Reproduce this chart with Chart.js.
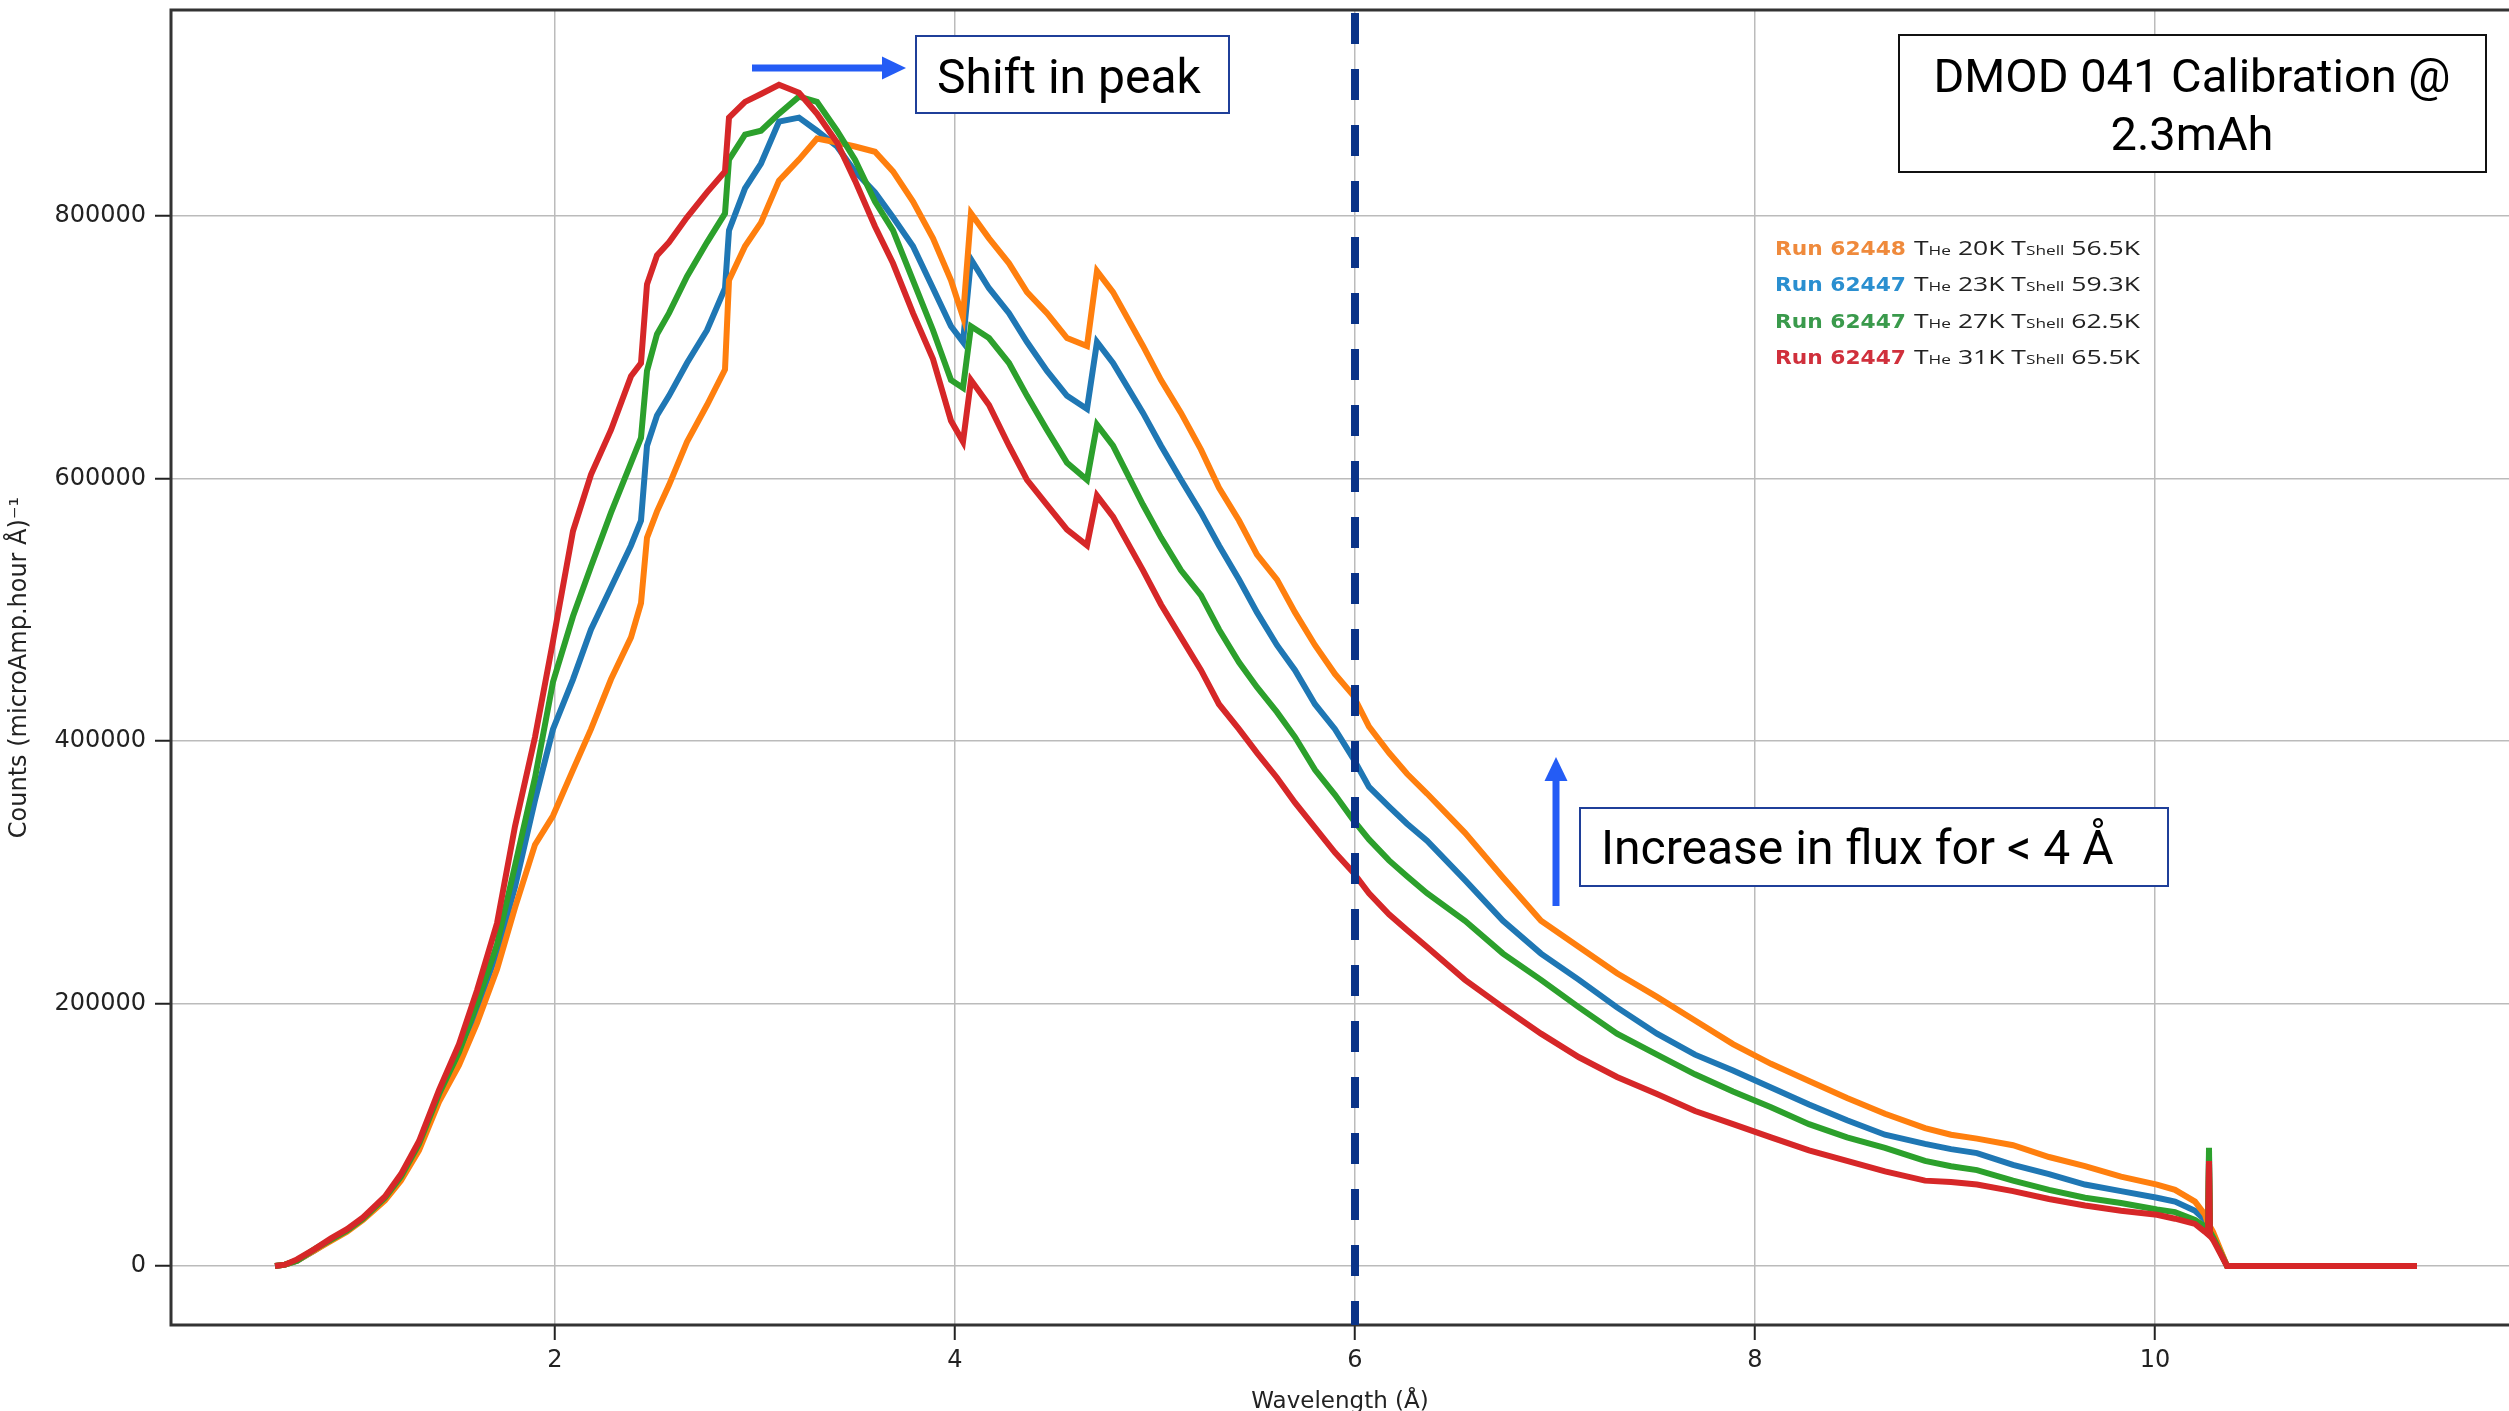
<!DOCTYPE html>
<html>
<head>
<meta charset="utf-8">
<script src="https://cdn.jsdelivr.net/npm/chart.js@4.4.1/dist/chart.umd.min.js"></script>
<style>
  html, body { margin: 0; padding: 0; background: #fff; }
  canvas { display: block; }
</style>
</head>
<body>
<canvas id="spectrumChart" width="2509" height="1411"></canvas>
<script>
// wavelength in Angstrom, shared by all four runs
const wavelength = [
    0.60, 0.65, 0.71, 0.80, 0.88, 0.96, 1.04, 1.15, 1.23, 1.32,
    1.42, 1.52, 1.61, 1.71, 1.80, 1.90, 1.99, 2.09, 2.18, 2.28,
    2.38, 2.43, 2.46, 2.51, 2.57, 2.66, 2.76, 2.85, 2.87, 2.95,
    3.03, 3.12, 3.22, 3.31, 3.41, 3.50, 3.60, 3.69, 3.79, 3.89,
    3.98, 4.04, 4.08, 4.17, 4.27, 4.36, 4.46, 4.56, 4.66, 4.71,
    4.79, 4.94, 5.03, 5.13, 5.23, 5.32, 5.42, 5.51, 5.61, 5.70,
    5.80, 5.90, 5.99, 6.07, 6.17, 6.26, 6.36, 6.55, 6.74, 6.93,
    7.12, 7.31, 7.51, 7.70, 7.89, 8.08, 8.27, 8.46, 8.65, 8.85,
    8.98, 9.11, 9.29, 9.47, 9.65, 9.83, 10.01, 10.10, 10.20, 10.25,
    10.265, 10.27, 10.275, 10.29, 10.36, 11.31
];

// counts in thousands
const run62448_T20 = [
    0, 1, 4, 12, 19, 26, 35, 50, 65, 88,
    125, 153, 185, 226, 273, 321, 343, 378, 409, 447,
    479, 505, 555, 575, 595, 628, 656, 683, 751, 777,
    795, 827, 843, 859, 856, 853, 849, 834, 811, 783,
    751, 723, 802, 783, 764, 742, 726, 707, 701, 758,
    742, 701, 675, 650, 622, 593, 568, 542, 523, 498,
    473, 451, 435, 411, 391, 375, 360, 330, 296, 263,
    243, 223, 205, 187, 169, 154, 141, 128, 116, 105,
    100, 97, 92, 83, 76, 68, 62, 58, 49, 39,
    32, 78, 30, 26, 0, 0
];
const run62447_T23 = [
    0, 1, 4, 12, 20, 27, 36, 52, 68, 92,
    130, 160, 196, 239, 289, 355, 409, 447, 485, 517,
    549, 568, 625, 648, 663, 688, 713, 745, 789, 821,
    840, 872, 875, 865, 853, 834, 818, 799, 777, 745,
    716, 704, 767, 745, 726, 704, 682, 663, 653, 704,
    688, 650, 625, 599, 574, 549, 523, 498, 473, 454,
    428, 409, 387, 365, 350, 337, 324, 294, 263, 238,
    218, 197, 177, 161, 149, 136, 123, 111, 100, 93,
    89, 86, 77, 70, 62, 57, 52, 49, 42, 35,
    30, 84, 28, 24, 0, 0
];
const run62447_T27 = [
    0, 1, 4, 13, 20, 27, 36, 52, 68, 93,
    131, 163, 200, 245, 305, 372, 445, 495, 533, 574,
    612, 631, 682, 710, 726, 754, 780, 802, 843, 862,
    865, 878, 891, 887, 865, 843, 811, 789, 751, 713,
    675, 669, 716, 707, 688, 663, 637, 612, 599, 641,
    625, 580, 555, 530, 511, 485, 460, 441, 422, 403,
    378, 359, 340, 325, 309, 297, 284, 263, 238, 218,
    197, 177, 161, 146, 133, 121, 108, 98, 90, 80,
    76, 73, 65, 58, 52, 48, 43, 41, 35, 30,
    27, 90, 26, 22, 0, 0
];
const run62447_T31 = [
    0, 1, 5, 13, 21, 28, 37, 53, 70, 95,
    134, 169, 210, 261, 335, 403, 476, 560, 603, 637,
    678, 688, 748, 770, 780, 799, 818, 834, 875, 887,
    893, 900, 894, 878, 856, 827, 792, 764, 726, 691,
    644, 628, 675, 656, 625, 599, 580, 561, 549, 587,
    571, 530, 504, 479, 454, 428, 409, 391, 372, 353,
    334, 315, 300, 284, 268, 256, 243, 218, 197, 177,
    159, 144, 131, 118, 108, 98, 88, 80, 72, 65,
    64, 62, 57, 51, 46, 42, 39, 36, 32, 26,
    24, 80, 23, 20, 0, 0
];

const xTicks = [2, 4, 6, 8, 10];
const yTicks = [0, 200000, 400000, 600000, 800000];

const legendRows = [
    { run: 'Run 62448', he: '20K', shell: '56.5K', color: '#ef8a3c' },
    { run: 'Run 62447', he: '23K', shell: '59.3K', color: '#2a8fd0' },
    { run: 'Run 62447', he: '27K', shell: '62.5K', color: '#3a9a4c' },
    { run: 'Run 62447', he: '31K', shell: '65.5K', color: '#d0303c' }
];

function toPoints(values) {
    return values.map((v, i) => ({ x: wavelength[i], y: v * 1000 }));
}

function drawArrow(ctx, x1, y1, x2, y2, shaft, headLen, headW, color) {
    const ang = Math.atan2(y2 - y1, x2 - x1);
    const len = Math.hypot(x2 - x1, y2 - y1);
    ctx.save();
    ctx.translate(x1, y1);
    ctx.rotate(ang);
    ctx.fillStyle = color;
    ctx.fillRect(0, -shaft / 2, len - headLen + 1, shaft);
    ctx.beginPath();
    ctx.moveTo(len, 0);
    ctx.lineTo(len - headLen, -headW / 2);
    ctx.lineTo(len - headLen, headW / 2);
    ctx.closePath();
    ctx.fill();
    ctx.restore();
}

function drawBox(ctx, x, y, w, h, color) {
    ctx.fillStyle = '#fff';
    ctx.fillRect(x, y, w, h);
    ctx.strokeStyle = color;
    ctx.lineWidth = 2;
    ctx.strokeRect(x, y, w, h);
}

// draw a run of text pieces squeezed/stretched to a given width
function drawPieces(ctx, pieces, x, base, targetWidth) {
    let total = 0;
    pieces.forEach(p => { ctx.font = p.font; total += ctx.measureText(p.text).width; });
    const sx = targetWidth / total;
    ctx.save();
    ctx.translate(x, base);
    ctx.scale(sx, 1);
    let cx = 0;
    pieces.forEach(p => {
        ctx.font = p.font;
        ctx.fillStyle = p.color;
        ctx.fillText(p.text, cx, 0);
        cx += ctx.measureText(p.text).width;
    });
    ctx.restore();
}

const overlay = {
    id: 'overlay',
    afterDraw(chart) {
        const { ctx, chartArea: a, scales } = chart;
        ctx.save();

        // axes frame (right side runs off the picture)
        ctx.strokeStyle = '#333';
        ctx.lineWidth = 3;
        ctx.beginPath();
        ctx.moveTo(chart.width, a.top);
        ctx.lineTo(a.left, a.top);
        ctx.lineTo(a.left, a.bottom);
        ctx.lineTo(chart.width, a.bottom);
        ctx.stroke();

        // dashed marker at 6 A
        const x6 = scales.x.getPixelForValue(6);
        ctx.strokeStyle = '#0a3388';
        ctx.lineWidth = 8;
        ctx.setLineDash([31, 25]);
        ctx.beginPath();
        ctx.moveTo(x6, a.top + 3);
        ctx.lineTo(x6, a.bottom);
        ctx.stroke();
        ctx.setLineDash([]);

        // shift in peak
        drawArrow(ctx, 752, 68, 906, 68, 7, 24, 23, '#245cf5');
        drawBox(ctx, 916, 36, 313, 77, '#1f3f99');
        ctx.fillStyle = '#000';
        ctx.font = '48px Roboto';
        ctx.textAlign = 'left';
        ctx.textBaseline = 'alphabetic';
        ctx.fillText('Shift in peak', 937, 93);

        // increase in flux
        drawArrow(ctx, 1556, 906, 1556, 757, 7, 24, 23, '#245cf5');
        drawBox(ctx, 1580, 808, 588, 78, '#1f3f99');
        ctx.fillStyle = '#000';
        ctx.fillText('Increase in flux for < 4 Å', 1601, 864);

        // title box
        drawBox(ctx, 1899, 35, 587, 137, '#111');
        ctx.fillStyle = '#000';
        ctx.font = '47px Roboto';
        ctx.textAlign = 'center';
        ctx.fillText('DMOD 041 Calibration @', 2192, 92);
        ctx.fillText('2.3mAh', 2192, 150);

        // run legend
        ctx.textAlign = 'left';
        legendRows.forEach((row, i) => {
            const base = 255 + i * 36.3;
            drawPieces(ctx, [
                { text: row.run, font: 'bold 20px "DejaVu Sans"', color: row.color }
            ], 1775, base, 131);
            const big = '20px "Open Sans"', small = '13px "Open Sans"', ink = '#222';
            drawPieces(ctx, [
                { text: 'T', font: big, color: ink },
                { text: 'He', font: small, color: ink },
                { text: ' ' + row.he + ' ', font: big, color: ink },
                { text: 'T', font: big, color: ink },
                { text: 'Shell', font: small, color: ink },
                { text: ' ' + row.shell, font: big, color: ink }
            ], 1914, base, 226);
        });

        ctx.restore();
    }
};

function initializeChart() {
    const ctx = document.getElementById('spectrumChart').getContext('2d');

    // first dataset is painted on top in Chart.js, so red goes first
    const data = {
        datasets: [
            { label: 'Run 62447 THe 31K', data: toPoints(run62447_T31), borderColor: '#d62728' },
            { label: 'Run 62447 THe 27K', data: toPoints(run62447_T27), borderColor: '#2ca02c' },
            { label: 'Run 62448 THe 20K', data: toPoints(run62448_T20), borderColor: '#ff7f0e' },
            { label: 'Run 62447 THe 23K', data: toPoints(run62447_T23), borderColor: '#1f77b4' }
        ].map(d => Object.assign(d, {
            borderWidth: 6,
            pointRadius: 0,
            tension: 0,
            fill: false
        }))
    };

    const config = {
        type: 'line',
        data: data,
        options: {
            responsive: false,
            animation: false,
            layout: { padding: { top: 10, left: 0, right: 0, bottom: 0 } },
            plugins: {
                legend: { display: false },
                tooltip: { enabled: false }
            },
            scales: {
                x: {
                    type: 'linear',
                    min: 0.08,
                    max: 11.77,
                    afterBuildTicks: s => { s.ticks = xTicks.map(v => ({ value: v })); },
                    afterFit: s => { s.height = 86; s.paddingLeft = 0; s.paddingRight = 0; },
                    ticks: {
                        font: { family: 'DejaVu Sans', size: 24 },
                        color: '#222',
                        padding: 6,
                        maxRotation: 0,
                        callback: v => String(v)
                    },
                    grid: { color: '#bbbbbb', lineWidth: 1.5, tickLength: 15, tickColor: '#222', tickWidth: 2 },
                    border: { display: false },
                    title: {
                        display: true,
                        text: 'Wavelength (Å)',
                        font: { family: 'DejaVu Sans', size: 23 },
                        color: '#222',
                        padding: { top: 0, bottom: -5 }
                    }
                },
                y: {
                    type: 'linear',
                    min: -45000,
                    max: 957000,
                    afterBuildTicks: s => { s.ticks = yTicks.map(v => ({ value: v })); },
                    afterFit: s => { s.width = 171; s.paddingTop = 0; s.paddingBottom = 0; },
                    ticks: {
                        font: { family: 'DejaVu Sans', size: 24 },
                        color: '#222',
                        padding: 9,
                        callback: v => String(v)
                    },
                    grid: { color: '#bbbbbb', lineWidth: 1.5, tickLength: 16, tickColor: '#222', tickWidth: 2 },
                    border: { display: false },
                    title: {
                        display: true,
                        text: 'Counts (microAmp.hour Å)⁻¹',
                        font: { family: 'DejaVu Sans', size: 24 },
                        color: '#222',
                        padding: { top: 5, bottom: 0 }
                    }
                }
            }
        },
        plugins: [overlay]
    };

    new Chart(ctx, config);
}

document.addEventListener('DOMContentLoaded', initializeChart);
</script>
</body>
</html>
